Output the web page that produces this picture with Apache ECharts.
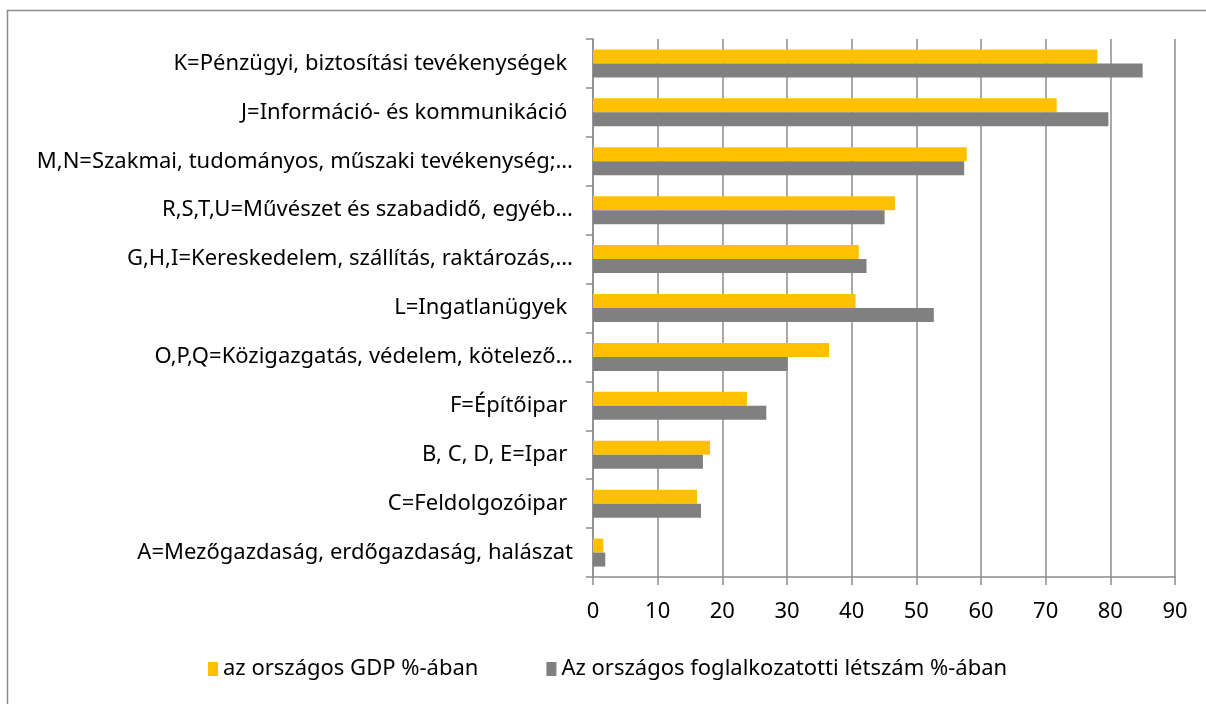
<!DOCTYPE html>
<html>
<head>
<meta charset="utf-8">
<script src="https://cdn.jsdelivr.net/npm/echarts@6/dist/echarts.min.js"></script>
<style>
  html, body { margin: 0; padding: 0; background: #fff; }
  #chart { width: 1206px; height: 704px; }
</style>
</head>
<body>
<div id="chart"></div>
<script>
// kategóriák alulról felfelé
var categories = [
    'A=Mezőgazdaság, erdőgazdaság, halászat',
    'C=Feldolgozóipar ',
    'B, C, D, E=Ipar ',
    'F=Építőipar ',
    'O,P,Q=Közigazgatás, védelem, kötelező…',
    'L=Ingatlanügyek ',
    'G,H,I=Kereskedelem, szállítás, raktározás,…',
    'R,S,T,U=Művészet és szabadidő, egyéb…',
    'M,N=Szakmai, tudományos, műszaki tevékenység;…',
    'J=Információ- és kommunikáció ',
    'K=Pénzügyi, biztosítási tevékenységek '
];
var gdpShare = [1.6, 16.1, 18.1, 23.8, 36.5, 40.6, 41.1, 46.7, 57.8, 71.7, 78.0];
var employmentShare = [1.9, 16.7, 17.0, 26.8, 30.1, 52.7, 42.3, 45.1, 57.4, 79.7, 85.0];
var xTicks = [0, 90, 10]; // min, max, interval

var lineColor = '#8c8c8c';
var fontFam = '"Noto Sans", sans-serif';

var myChart = echarts.init(document.getElementById('chart'));

var option = {
    backgroundColor: '#ffffff',
    animation: false,
    graphic: [{
        type: 'rect',
        shape: { x: 7.5, y: 10.5, width: 1210, height: 710 },
        style: { fill: 'none', stroke: '#8c8c8c', lineWidth: 1.5 }
    }],
    grid: {
        left: 593,
        right: 31,
        top: 39,
        bottom: 127
    },
    legend: {
        left: 203,
        top: 653,
        itemWidth: 10,
        itemHeight: 14,
        itemGap: 68,
        icon: 'rect',
        textStyle: { fontFamily: fontFam, fontSize: 22, color: '#000' },
        data: ['az országos GDP %-ában', 'Az országos foglalkozatotti létszám %-ában']
    },
    xAxis: {
        type: 'value',
        min: xTicks[0],
        max: xTicks[1],
        interval: xTicks[2],
        axisLine: { show: true, lineStyle: { color: lineColor, width: 1.5 } },
        axisTick: { show: true, length: 8, lineStyle: { color: lineColor, width: 1.5 } },
        splitLine: { show: true, lineStyle: { color: lineColor, width: 1.5 } },
        axisLabel: { fontFamily: fontFam, fontSize: 22, color: '#000', margin: 24 }
    },
    yAxis: {
        type: 'category',
        data: categories,
        axisLine: { show: true, lineStyle: { color: lineColor, width: 1.5 } },
        axisTick: { show: true, length: 7, lineStyle: { color: lineColor, width: 1.5 } },
        axisLabel: { fontFamily: fontFam, fontSize: 22, color: '#000', margin: 20 }
    },
    series: [{
        name: 'az országos GDP %-ában',
        type: 'bar',
        data: gdpShare,
        barWidth: 14,
        barGap: '0%',
        itemStyle: { color: '#ffc000' }
    }, {
        name: 'Az országos foglalkozatotti létszám %-ában',
        type: 'bar',
        data: employmentShare,
        barWidth: 14,
        barGap: '0%',
        itemStyle: { color: '#808080' }
    }]
};

myChart.setOption(option);
</script>
</body>
</html>
